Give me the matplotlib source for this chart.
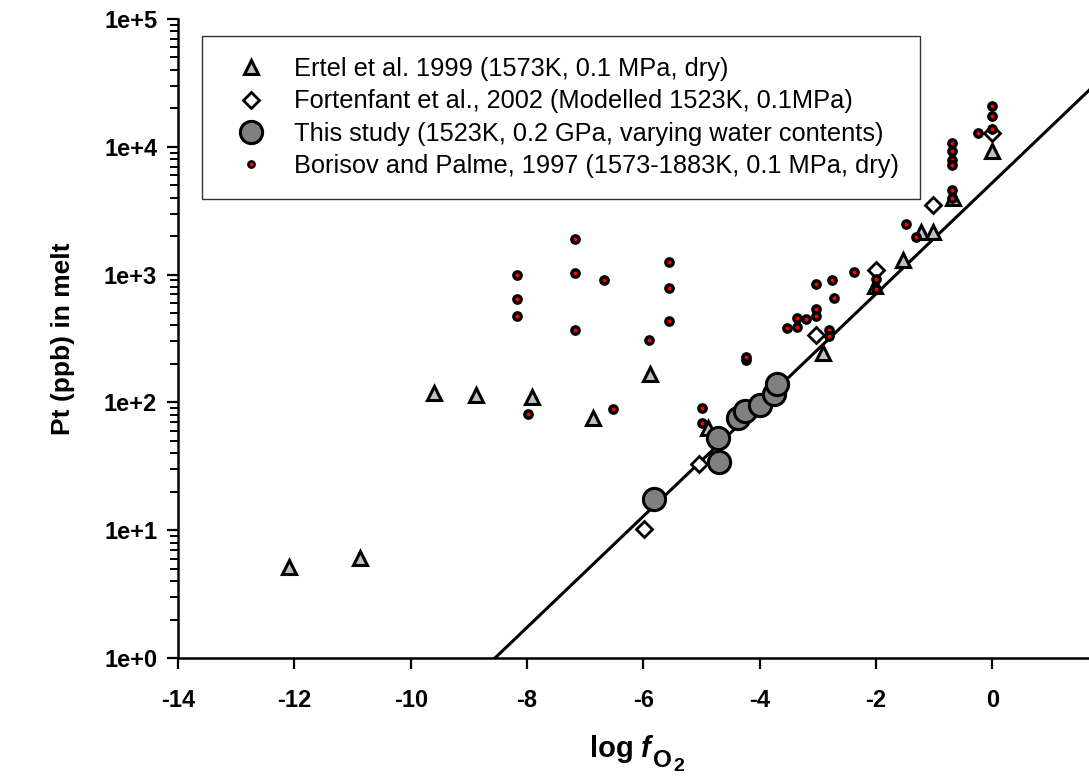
import numpy as np
import matplotlib
matplotlib.use("Agg")
import matplotlib.pyplot as plt
from matplotlib.ticker import FixedLocator, LogLocator, NullFormatter, FuncFormatter
from matplotlib.lines import Line2D

plt.rcParams['font.family'] = ['Liberation Sans', 'DejaVu Sans']
plt.rcParams['axes.unicode_minus'] = False

# Ertel et al. 1999
ertel_x = [-12.09, -10.88, -9.60, -8.88, -7.91, -6.86, -5.88, -4.89, -2.91,
           -2.02, -1.53, -1.22, -1.02, -0.68, 0.0]
ertel_y = [5.2, 6.1, 118, 114, 111, 75, 167, 63, 243,
           817, 1300, 2170, 2170, 3970, 9190]

# Fortenfant et al. 2002 (modelled)
fort_x = [-5.99, -5.04, -3.03, -2.01, -1.02, 0.0]
fort_y = [10.2, 33, 338, 1090, 3515, 12800]

# this study
study_x = [-5.82, -4.70, -4.72, -4.37, -4.26, -4.00, -3.75, -3.71]
study_y = [17.5, 34.4, 52.5, 75, 85, 95, 116, 139]

# Borisov and Palme 1997
bor_x = [-7.18, -8.18, -7.18, -6.68, -5.56, -5.56, -5.56, -8.18, -8.18, -7.18,
         -5.90, -4.24, -4.24, -5.00, -5.00, -6.52, -7.98,
         -3.53, -3.36, -3.36, -3.20, -3.03, -3.03, -3.03, -2.75, -2.72, -2.38,
         -2.81, -2.81, -2.01, -2.01, -1.48, -1.32,
         -0.69, -0.69, -0.69, -0.69, -0.69, -0.69, 0.0, 0.0, 0.0, -0.24]
bor_y = [1905, 984, 1038, 915, 1265, 788, 432, 643, 475, 369,
         307, 215, 228, 90, 69, 88.5, 81,
         381, 392, 456, 451, 537, 475, 842, 910, 654, 1057,
         370, 332, 921, 769, 2496, 1986,
         10700, 9190, 7910, 7230, 4610, 3970, 20700, 17500, 13700, 12900]

# fitted line: log Pt = a + b * log fO2
fit_a = 3.72
fit_b = 0.435

x_ticks = [-14, -12, -10, -8, -6, -4, -2, 0]
y_ticks = [1, 10, 100, 1000, 10000, 100000]

W, H = 1089, 778
fig = plt.figure(figsize=(W / 100, H / 100), dpi=100)
ax = fig.add_axes([0.1635, 0.1542, 0.8365, 0.8214])

xl = np.array([-14, 1.66])
ax.plot(xl, 10 ** (fit_a + fit_b * xl), color='black', lw=2.2, zorder=1)

ax.plot(ertel_x, ertel_y, ls='none', marker='^', ms=10.5, mfc='#c0c0c0',
        mec='black', mew=2.2, zorder=2)
ax.plot(fort_x, fort_y, ls='none', marker='D', ms=8, mfc='white',
        mec='black', mew=2.0, zorder=3)
ax.plot(bor_x, bor_y, ls='none', marker='o', ms=5.3, mfc='red',
        mec='black', mew=2.4, zorder=4)
ax.plot(study_x, study_y, ls='none', marker='o', ms=16, mfc='#808080',
        mec='black', mew=2.2, zorder=5)

ax.set_yscale('log')
ax.set_xlim(-14, 1.66)
ax.set_ylim(1, 1e5)

ax.xaxis.set_major_locator(FixedLocator(x_ticks))
ax.yaxis.set_major_locator(FixedLocator(y_ticks))
ax.yaxis.set_minor_locator(LogLocator(base=10, subs=np.arange(2, 10)))
ax.yaxis.set_minor_formatter(NullFormatter())
ax.yaxis.set_major_formatter(FuncFormatter(lambda v, p: '1e+%d' % int(round(np.log10(v)))))

for s in ['top', 'right']:
    ax.spines[s].set_visible(False)
for s in ['left', 'bottom']:
    ax.spines[s].set_linewidth(1.8)

ax.tick_params(axis='both', which='major', direction='out', length=8, width=1.6,
               labelsize=17)
ax.tick_params(axis='x', which='major', pad=14)
ax.tick_params(axis='y', which='major', pad=7)
ax.tick_params(axis='y', which='minor', direction='out', length=6, width=1.4)
for lab in ax.get_xticklabels() + ax.get_yticklabels():
    lab.set_fontweight('bold')

# x label "log fO2" built from pieces (subscript O and 2 at near full size)
def px_text(x, y, s, size, **kw):
    fig.text(x / W, 1 - y / H, s, fontsize=size, fontweight='bold',
             ha='left', va='baseline', **kw)

px_text(590, 757, 'log', 21)
px_text(641, 757, 'f', 21, fontstyle='italic')
px_text(653, 767, 'O', 17.5)
px_text(673, 771, '2', 14)

ax.set_ylabel('Pt (ppb) in melt', fontsize=19, fontweight='bold', labelpad=21)

handles = [
    Line2D([], [], ls='none', marker='^', ms=10.5, mfc='#c0c0c0', mec='black', mew=2.2),
    Line2D([], [], ls='none', marker='D', ms=8, mfc='white', mec='black', mew=2.0),
    Line2D([], [], ls='none', marker='o', ms=16, mfc='#808080', mec='black', mew=2.2),
    Line2D([], [], ls='none', marker='o', ms=4.5, mfc='red', mec='black', mew=1.8),
]
labels = [
    'Ertel et al. 1999 (1573K, 0.1 MPa, dry)',
    'Fortenfant et al., 2002 (Modelled 1523K, 0.1MPa)',
    'This study (1523K, 0.2 GPa, varying water contents)',
    'Borisov and Palme, 1997 (1573-1883K, 0.1 MPa, dry)',
]
leg = ax.legend(handles, labels, loc='upper left', bbox_to_anchor=(0.0263, 0.973),
                borderaxespad=0, fontsize=18.3, frameon=True, fancybox=False,
                edgecolor='#333333', framealpha=1, borderpad=0.82,
                handlelength=2.2, handletextpad=0.6, labelspacing=0.33)
leg.get_frame().set_linewidth(1.0)

fig.savefig('out.png', dpi=100)
